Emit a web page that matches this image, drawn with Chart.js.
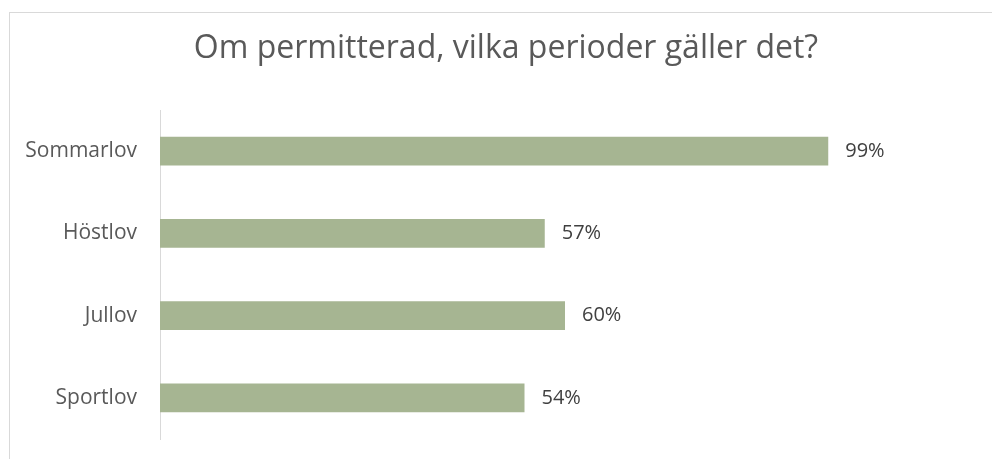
<!DOCTYPE html>
<html>
<head>
<meta charset="utf-8">
<script src="https://cdn.jsdelivr.net/npm/chart.js@4"></script>
<style>
html,body{margin:0;padding:0;background:#fff;overflow:hidden;width:992px;height:459px;}
#frame{position:absolute;left:9px;top:12px;width:1200px;height:600px;border-left:1px solid #d9d9d9;border-top:1px solid #d9d9d9;}
#c{position:absolute;left:0;top:0;}
</style>
</head>
<body>
<div id="frame"></div>
<canvas id="c" width="992" height="459"></canvas>
<script>
const titleText = "Om permitterad, vilka perioder gäller det?";
const categories = ["Sommarlov", "Höstlov", "Jullov", "Sportlov"];
const values = [99, 57, 60, 54];
const axisMax = 120;

const valueLabels = {
  id: 'valueLabels',
  afterDatasetsDraw(chart) {
    const ctx = chart.ctx;
    const meta = chart.getDatasetMeta(0);
    ctx.save();
    ctx.font = '20px "Open Sans"';
    ctx.fillStyle = '#404040';
    ctx.textAlign = 'left';
    ctx.textBaseline = 'middle';
    meta.data.forEach((bar, i) => {
      ctx.fillText(values[i] + '%', bar.x + 17, bar.y);
    });
    ctx.restore();
  }
};

const titleDraw = {
  id: 'titleDraw',
  afterDraw(chart) {
    const ctx = chart.ctx;
    ctx.save();
    ctx.font = '32px "Open Sans"';
    ctx.fillStyle = '#595959';
    ctx.textAlign = 'center';
    ctx.textBaseline = 'middle';
    ctx.fillText(titleText, 506, 49);
    ctx.restore();
  }
};

new Chart(document.getElementById('c'), {
  type: 'bar',
  data: {
    labels: categories,
    datasets: [{
      data: values,
      backgroundColor: '#a6b592',
      borderWidth: 0,
      categoryPercentage: 1,
      barPercentage: 0.347
    }]
  },
  plugins: [valueLabels, titleDraw],
  options: {
    indexAxis: 'y',
    responsive: false,
    animation: false,
    layout: { padding: { left: 0, right: 22, top: 110, bottom: 20 } },
    plugins: {
      legend: { display: false },
      tooltip: { enabled: false },
      title: { display: false }
    },
    scales: {
      x: {
        display: false,
        min: 0,
        max: axisMax
      },
      y: {
        afterFit(scale) {
          scale.width = 160;
          scale.paddingTop = 0;
          scale.paddingBottom = 0;
        },
        grid: { display: true, drawOnChartArea: false, drawTicks: false },
        border: { display: true, color: '#d9d9d9', width: 1 },
        ticks: {
          padding: 23,
          color: '#595959',
          font: { family: 'Open Sans', size: 21 }
        }
      }
    }
  }
});
</script>
</body>
</html>
